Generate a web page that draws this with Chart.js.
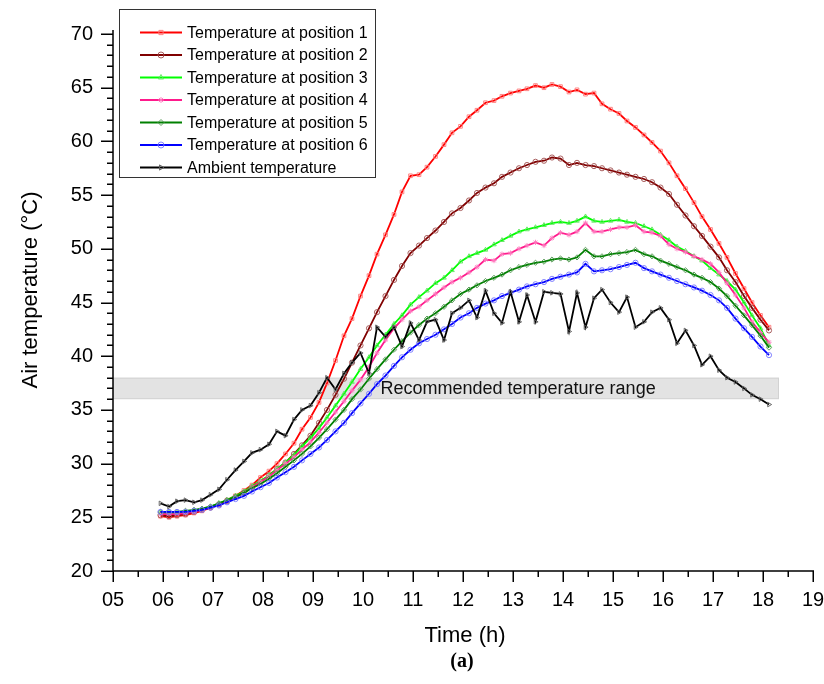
<!DOCTYPE html>
<html>
<head>
<meta charset="utf-8">
<script src="https://cdn.jsdelivr.net/npm/chart.js@4.4.1/dist/chart.umd.min.js"></script>
<style>
  html, body { margin: 0; padding: 0; background: #ffffff; }
  #wrap { width: 824px; height: 684px; }
</style>
</head>
<body>
<div id="wrap"><canvas id="c" width="824" height="684"></canvas></div>
<script>
// ---- Data (time in hours, temperature in °C) ----
const hours = [
  5.95, 6.12, 6.28, 6.45, 6.62, 6.78,
  6.95, 7.12, 7.28, 7.45, 7.62, 7.78,
  7.95, 8.12, 8.28, 8.45, 8.62, 8.78,
  8.95, 9.12, 9.28, 9.45, 9.62, 9.78,
  9.95, 10.12, 10.28, 10.45, 10.62, 10.78,
  10.95, 11.12, 11.28, 11.45, 11.62, 11.78,
  11.95, 12.12, 12.28, 12.45, 12.62, 12.78,
  12.95, 13.12, 13.28, 13.45, 13.62, 13.78,
  13.95, 14.12, 14.28, 14.45, 14.62, 14.78,
  14.95, 15.12, 15.28, 15.45, 15.62, 15.78,
  15.95, 16.12, 16.28, 16.45, 16.62, 16.78,
  16.95, 17.12, 17.28, 17.45, 17.62, 17.78,
  17.95, 18.12
];
const position1 = [
  25.1, 25.0, 25.1, 25.2, 25.4, 25.6,
  25.9, 26.2, 26.6, 27.0, 27.5, 28.0,
  28.7, 29.3, 30.0, 30.9, 31.9, 33.2,
  34.3, 35.7, 37.5, 39.6, 41.9, 43.5,
  45.6, 47.5, 49.5, 51.3, 53.2, 55.3,
  56.8, 56.9, 57.6, 58.6, 59.7, 60.8,
  61.4, 62.3, 62.9, 63.6, 63.8, 64.2,
  64.5, 64.7, 64.9, 65.2, 65.0, 65.3,
  65.1, 64.6, 64.8, 64.4, 64.5, 63.5,
  63.0, 62.6, 61.9, 61.3, 60.6, 59.9,
  59.1, 58.0, 56.8, 55.6, 54.3, 53.0,
  51.8, 50.5, 49.2, 47.7, 46.3, 45.0,
  43.8, 42.7
];
const position2 = [
  25.2, 25.1, 25.2, 25.3, 25.5, 25.7,
  25.9, 26.2, 26.5, 26.9, 27.3, 27.8,
  28.3, 28.9, 29.5, 30.1, 30.9, 31.7,
  32.6, 33.8, 35.0, 36.4, 37.9, 39.4,
  41.0, 42.6, 44.1, 45.6, 47.1, 48.4,
  49.6, 50.3, 51.0, 51.7, 52.5, 53.3,
  53.8, 54.5, 55.2, 55.7, 56.1, 56.7,
  57.1, 57.5, 57.8, 58.1, 58.2, 58.5,
  58.4, 57.8, 58.0, 57.8, 57.7, 57.5,
  57.3, 57.1, 56.9, 56.7, 56.5, 56.2,
  55.7, 55.1, 54.1, 53.1, 52.1, 51.2,
  50.2, 49.2, 48.0, 46.9, 45.6, 44.5,
  43.4, 42.4
];
const position3 = [
  25.4, 25.4, 25.4, 25.5, 25.6, 25.8,
  26.0, 26.3, 26.6, 27.0, 27.4, 27.9,
  28.4, 28.9, 29.5, 30.1, 30.8, 31.6,
  32.4, 33.3, 34.3, 35.4, 36.5, 37.6,
  38.8, 39.9, 41.0, 42.0, 43.0, 43.8,
  44.8, 45.5, 46.1, 46.8, 47.3, 48.0,
  48.8, 49.3, 49.6, 49.9, 50.4, 50.8,
  51.2, 51.6, 51.8, 52.0, 52.2, 52.4,
  52.5, 52.4, 52.6, 53.0, 52.6, 52.5,
  52.6, 52.7, 52.5, 52.4, 52.1, 51.8,
  51.3, 50.8, 50.2, 49.8, 49.3, 48.9,
  48.2, 47.6, 47.0, 46.2, 45.0, 43.8,
  42.6, 41.0
];
const position4 = [
  25.3, 25.3, 25.3, 25.4, 25.5, 25.7,
  25.9, 26.2, 26.5, 26.9, 27.3, 27.8,
  28.3, 28.8, 29.4, 30.0, 30.6, 31.3,
  32.0, 32.9, 33.8, 34.8, 35.8, 36.8,
  37.8, 39.0, 40.3, 41.5, 42.6, 43.4,
  44.2, 44.6, 45.2, 45.8, 46.4, 46.9,
  47.3, 47.8, 48.3, 49.0, 48.9, 49.5,
  49.6, 50.0, 50.3, 50.6, 50.3, 51.0,
  51.5, 51.3, 51.6, 52.4, 51.6, 51.6,
  51.8, 52.0, 52.0, 52.2, 51.6, 51.5,
  51.2, 50.4, 50.0, 49.7, 49.3, 49.0,
  48.6, 47.8, 46.8, 45.7, 44.5, 43.2,
  42.2, 41.3
];
const position5 = [
  25.5, 25.5, 25.5, 25.6, 25.7, 25.8,
  26.0, 26.3, 26.6, 26.9, 27.3, 27.7,
  28.1, 28.6, 29.1, 29.7, 30.3, 30.9,
  31.6, 32.4, 33.2, 34.1, 35.0, 36.0,
  36.9, 37.9, 38.8, 39.7, 40.6, 41.4,
  42.2, 42.9, 43.5, 44.0, 44.6, 45.2,
  45.8, 46.2, 46.6, 47.0, 47.3, 47.6,
  48.0, 48.3, 48.5, 48.7, 48.8, 49.0,
  49.1, 49.0, 49.2, 49.9, 49.3, 49.3,
  49.5, 49.6, 49.7, 49.9, 49.5, 49.3,
  48.9, 48.6, 48.3, 48.0, 47.6, 47.3,
  46.9, 46.3, 45.6, 44.7, 43.8, 42.9,
  41.9, 40.8
];
const position6 = [
  25.5, 25.5, 25.5, 25.5, 25.6, 25.7,
  25.9, 26.1, 26.4, 26.7, 27.0, 27.4,
  27.8, 28.2, 28.7, 29.2, 29.7, 30.3,
  30.9, 31.5, 32.2, 33.0, 33.8, 34.7,
  35.6, 36.5, 37.4, 38.2, 39.1, 39.9,
  40.6, 41.2, 41.6, 42.0, 42.5, 43.0,
  43.6, 44.0, 44.5, 44.9, 45.2, 45.6,
  45.9, 46.2, 46.5, 46.7, 46.9, 47.2,
  47.4, 47.6, 47.8, 48.6, 47.9, 48.0,
  48.1, 48.3, 48.5, 48.7, 48.2, 47.9,
  47.6, 47.3, 47.0, 46.7, 46.4, 46.1,
  45.7, 45.2, 44.5, 43.5, 42.6, 41.8,
  40.9, 40.1
];
const ambient = [
  26.3, 26.0, 26.5, 26.6, 26.4, 26.6,
  27.1, 27.6, 28.5, 29.4, 30.2, 31.0,
  31.3, 31.8, 33.0, 32.6, 34.1, 35.0,
  35.4, 36.6, 38.0, 36.9, 38.4, 39.4,
  40.3, 38.4, 42.7, 41.8, 42.7, 40.9,
  43.1, 41.5, 43.2, 43.4, 41.5, 44.0,
  44.5, 45.2, 43.6, 46.1, 44.0, 43.1,
  46.0, 43.2, 45.7, 43.2, 46.0, 45.9,
  45.8, 42.3, 45.9, 42.7, 45.4, 46.2,
  45.0, 44.1, 45.5, 42.7, 43.2, 44.1,
  44.5, 43.4, 41.2, 42.4, 41.0, 39.2,
  40.0, 38.7, 38.0, 37.6, 37.0, 36.4,
  36.0, 35.5
];
const seriesNames = [
  'Temperature at position 1', 'Temperature at position 2', 'Temperature at position 3',
  'Temperature at position 4', 'Temperature at position 5', 'Temperature at position 6',
  'Ambient temperature'
];
const xTickLabels = ['05','06','07','08','09','10','11','12','13','14','15','16','17','18','19'];
const yTickLabels = ['20','25','30','35','40','45','50','55','60','65','70'];
const rangeLow = [36];
const rangeHigh = [38];
const rangeEndHour = [18.32];
const rangeLabel = ['Recommended temperature range'];

// ---- styles ----
const lineColors = ['#ff0000', '#800000', '#00ff00', '#ff1a8c', '#008000', '#0000ff', '#000000'];
const markColors = ['rgba(255,120,120,0.9)', 'rgba(160,80,80,0.9)', 'rgba(90,230,90,0.9)',
                    'rgba(255,120,190,0.9)', 'rgba(80,150,80,0.9)', 'rgba(120,120,255,0.9)', 'rgba(90,90,90,0.9)'];
const markStyles = ['rect', 'circle', 'triangle', 'star', 'rectRot', 'circle', 'triangle'];
const markRot = [0, 0, 0, 0, 0, 0, 90];
const allSeries = [position1, position2, position3, position4, position5, position6, ambient];

const FONT = '"Liberation Sans", Arial, sans-serif';

const datasets = allSeries.map((vals, i) => ({
  label: seriesNames[i],
  data: vals.map((v, k) => ({ x: hours[k], y: v })),
  borderColor: lineColors[i],
  borderWidth: 1.8,
  pointStyle: markStyles[i],
  rotation: markRot[i],
  pointRadius: 2.6,
  pointBorderWidth: 1,
  pointBorderColor: markColors[i],
  pointBackgroundColor: 'rgba(0,0,0,0)',
  tension: 0,
  order: i === 6 ? 0 : 7 - i
}));

const decor = {
  id: 'decor',
  beforeDatasetsDraw(chart) {
    const ctx = chart.ctx, xs = chart.scales.x, ys = chart.scales.y;
    const x0 = xs.getPixelForValue(5), x1 = xs.getPixelForValue(rangeEndHour[0]);
    const yTop = ys.getPixelForValue(rangeHigh[0]), yBot = ys.getPixelForValue(rangeLow[0]);
    ctx.save();
    ctx.fillStyle = '#e3e3e3';
    ctx.fillRect(x0, yTop, x1 - x0, yBot - yTop);
    ctx.strokeStyle = '#d2d2d2';
    ctx.lineWidth = 1;
    ctx.strokeRect(x0 + 0.5, yTop + 0.5, x1 - x0 - 1, yBot - yTop - 1);
    ctx.fillStyle = '#111';
    ctx.font = '18px ' + FONT;
    ctx.textBaseline = 'middle';
    ctx.textAlign = 'left';
    ctx.fillText(rangeLabel[0], xs.getPixelForValue(10.35), (yTop + yBot) / 2 + 1);
    ctx.restore();
  },
  afterDraw(chart) {
    const ctx = chart.ctx, xs = chart.scales.x, ys = chart.scales.y;
    const area = chart.chartArea;
    ctx.save();
    ctx.strokeStyle = '#000';
    ctx.lineWidth = 1.5;
    // axes lines
    ctx.beginPath();
    ctx.moveTo(area.left, area.top - 4);
    ctx.lineTo(area.left, area.bottom);
    ctx.lineTo(area.right + 1, area.bottom);
    ctx.stroke();
    // x ticks (major each hour, minor each half hour)
    for (let v = 5; v <= 19.001; v += 0.5) {
      const px = Math.round(xs.getPixelForValue(v)) + 0.25;
      const major = Math.abs(v - Math.round(v)) < 1e-6;
      ctx.beginPath();
      ctx.moveTo(px, area.bottom);
      ctx.lineTo(px, area.bottom + (major ? 11 : 6));
      ctx.stroke();
    }
    // y ticks (major every 5, minor every 1)
    for (let v = 20; v <= 70; v += 1) {
      const py = Math.round(ys.getPixelForValue(v)) + 0.25;
      const major = v % 5 === 0;
      ctx.beginPath();
      ctx.moveTo(area.left, py);
      ctx.lineTo(area.left - (major ? 12 : 6), py);
      ctx.stroke();
    }
    // axis titles
    ctx.fillStyle = '#000';
    ctx.font = '22px ' + FONT;
    ctx.textAlign = 'center';
    ctx.textBaseline = 'middle';
    ctx.fillText('Time (h)', 465, 636);
    ctx.save();
    ctx.translate(31, 290);
    ctx.rotate(-Math.PI / 2);
    ctx.fillText('Air temperature (\u00B0C)', 0, 0);
    ctx.restore();
    ctx.font = 'bold 20px "Liberation Serif", "Times New Roman", serif';
    ctx.fillText('(a)', 462, 662);
    // legend
    const lx = 119.5, ly = 9.5, lw = 256, lh = 168;
    ctx.fillStyle = '#fff';
    ctx.fillRect(lx, ly, lw, lh);
    ctx.strokeStyle = '#333';
    ctx.lineWidth = 1;
    ctx.strokeRect(lx, ly, lw, lh);
    ctx.font = '16px ' + FONT;
    ctx.textAlign = 'left';
    ctx.textBaseline = 'middle';
    for (let i = 0; i < seriesNames.length; i++) {
      const y = 32.5 + i * 22.5;
      ctx.strokeStyle = lineColors[i];
      ctx.lineWidth = 2;
      ctx.beginPath();
      ctx.moveTo(140, y);
      ctx.lineTo(182, y);
      ctx.stroke();
      ctx.strokeStyle = markColors[i];
      ctx.fillStyle = 'rgba(0,0,0,0)';
      ctx.lineWidth = 1;
      Chart.helpers.drawPoint(ctx, { pointStyle: markStyles[i], rotation: markRot[i], radius: 3, borderWidth: 1 }, 161, y);
      ctx.fillStyle = '#000';
      ctx.fillText(seriesNames[i], 187, y + 1);
    }
    ctx.restore();
  }
};

new Chart(document.getElementById('c'), {
  type: 'line',
  data: { datasets },
  options: {
    responsive: false,
    devicePixelRatio: 1,
    animation: false,
    layout: { padding: { top: 34, right: 11, left: 0, bottom: 0 } },
    plugins: { legend: { display: false }, tooltip: { enabled: false } },
    scales: {
      x: {
        type: 'linear', min: 5, max: 19,
        afterFit: s => { s.height = 113; s.paddingLeft = 0; s.paddingRight = 0; },
        afterBuildTicks: s => { s.ticks = xTickLabels.map(t => ({ value: Number(t) })); },
        ticks: {
          autoSkip: false, maxRotation: 0,
          callback: (v) => xTickLabels.find(t => Number(t) === v) || '',
          font: { family: FONT, size: 20 }, color: '#000', padding: 9
        },
        grid: { display: false },
        border: { display: false }
      },
      y: {
        type: 'linear', min: 20, max: 70,
        afterFit: s => { s.width = 113; s.paddingTop = 0; s.paddingBottom = 0; },
        afterBuildTicks: s => { s.ticks = yTickLabels.map(t => ({ value: Number(t) })); },
        ticks: {
          autoSkip: false,
          callback: (v) => yTickLabels.find(t => Number(t) === v) || '',
          font: { family: FONT, size: 20 }, color: '#000', padding: 12
        },
        grid: { display: false },
        border: { display: false }
      }
    }
  },
  plugins: [decor]
});
</script>
</body>
</html>
